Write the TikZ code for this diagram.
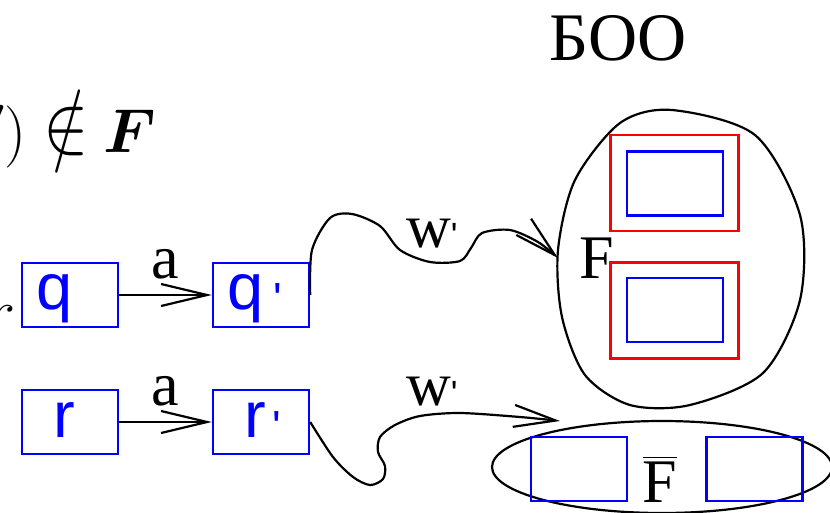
\documentclass[tikz,border=0pt]{standalone}
\usepackage{fix-cm}
\usepackage{amsmath}
\usepackage{bm}
\usepackage{fontspec}
\setmainfont{Liberation Serif}
\setsansfont{Liberation Sans}
\usetikzlibrary{positioning, arrows.meta, shapes.geometric}

\newcommand{\bigsz}{\fontsize{62}{70}\selectfont}
\newcommand{\tck}[2]{{\sffamily\fontsize{#1}{#1}\selectfont\raisebox{#2}{\textquotesingle}}}

\begin{document}
\begin{tikzpicture}[
    x=1pt, y=-1pt,
    stbox/.style={draw=blue, line width=2.4pt, minimum width=96pt, minimum height=64pt, inner sep=0pt},
    finbox/.style={draw=red, line width=2.4pt, minimum width=128pt, minimum height=96pt, inner sep=0pt},
    sym/.style={inner sep=0pt, font=\sffamily\fontsize{65}{70}\selectfont, text=blue},
    lbl/.style={inner sep=0pt, font=\bigsz},
    arr/.style={line width=2.2pt, -{Straight Barb[length=46pt, width=22pt]}},
    wire/.style={line width=2.2pt, -{Straight Barb[length=42pt, width=22pt]}}
]
    \path[use as bounding box] (0,0) rectangle (830,512);
    \clip (0,0) rectangle (830,512);

    % Zustaende
    \node[stbox] (q) at (70,295) {};
    \node[stbox] (qp) at (261,295) {};
    \node[stbox] (r) at (70,422) {};
    \node[stbox] (rp) at (261,422) {};
    \node[sym, anchor=base west] (qt) at (36,309) {q};
    \node[sym, anchor=base west] (qpt) at (227,309) {q\hspace{10pt}\tck{45}{-5pt}};
    \node[sym, anchor=base west] (rt) at (53,437) {r};
    \node[sym, anchor=base west] (rpt) at (244,437) {r\hspace{7pt}\tck{45}{-5pt}};

    % Texte
    \node[lbl, anchor=base east] (cond) at (156,152) {$(q',r')\kern17pt\scalebox{1.1}[1.35]{$\notin$}\kern14pt\bm{F}$};
    \node[lbl, anchor=base east] (rl) at (16,332) {$r$};
    \node[lbl, font=\fontsize{68}{70}\selectfont, anchor=base] (boo) at (618,60) {БОО};

    % Uebergaenge
    \draw[arr] (q) -- (qp);
    \draw[arr] (r) -- (rp);
    \node[lbl, anchor=base] (a1) at (165,278) {a};
    \node[lbl, anchor=base] (a2) at (165,405) {a};

    % F
    \draw[line width=2.2pt] plot[smooth cycle] coordinates {(672,110) (755,135) (800,215) (800,300) (763,373) (690,405) (630,405) (585,375) (562,317) (558,250) (575,180) (620,123)};
    \node[finbox] (f1) at (674.5,183) {};
    \node[stbox] (f1s) at (675,183.5) {};
    \node[finbox] (f2) at (674.5,310.5) {};
    \node[stbox] (f2s) at (675,310) {};
    \node[lbl, anchor=base west] (flbl) at (579,278) {F};
    \coordinate (fin) at (558,258);

    % nicht F
    \node[draw, ellipse, line width=2.2pt, minimum width=340pt, minimum height=92pt] (nf) at (662,467) {};
    \node[stbox] (nf1) at (579,469) {};
    \node[stbox] (nf2) at (754.5,469) {};
    \node[lbl, anchor=base] (nflbl) at (660,502) {$\overline{\text{F}}$};
    \coordinate (nfin) at (560,421);

    % Woerter
    \draw[wire] plot[smooth] coordinates {(qp.east) (312,250) (330,218) (352,214) (380,226) (400,250) (430,262) (460,261) (471,248) (482,233) (510,230) (538,242) (fin)};
    \draw[wire] plot[smooth] coordinates {(rp.east) (333,457) (353,477) (370,485) (383,479) (385,466) (378,452) (380,437) (395,425) (420,416) (460,413) (520,417) (nfin)};
    \node[lbl, anchor=base west] (w1) at (406,247) {w\tck{35}{0pt}};
    \node[lbl, anchor=base west] (w2) at (406,405) {w\tck{35}{0pt}};
\end{tikzpicture}
\end{document}
